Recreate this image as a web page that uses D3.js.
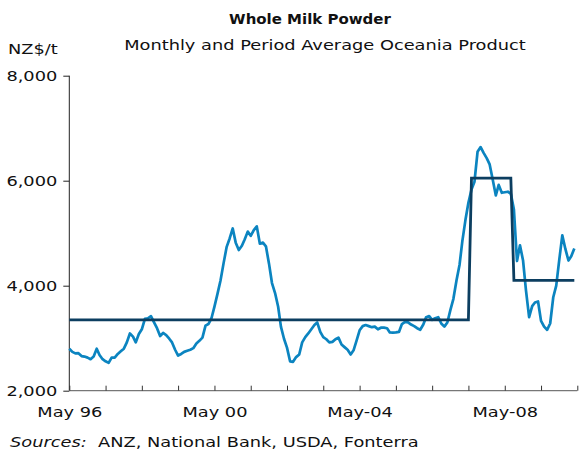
<!DOCTYPE html>
<html lang="en">
<head>
    <meta charset="UTF-8">
    <title>Whole Milk Powder</title>
    <script src="https://cdn.jsdelivr.net/npm/d3@7/dist/d3.min.js"></script>
    <style>
        body { margin: 0; background: #fff; }
        text { font-family: "DejaVu Sans", Verdana, sans-serif; fill: #111; }
    </style>
</head>
<body>
<script>
    // monthly price, NZ$/t, starting May 1996
    var startMonth = "1996-05";
    var wmp = [
        2800, 2740, 2710, 2715, 2660, 2650, 2630, 2600, 2650, 2800, 2680, 2600,
        2560, 2530, 2630, 2630, 2700, 2750, 2800, 2920, 3090, 3030, 2920, 3080,
        3170, 3370, 3380, 3420, 3300, 3190, 3040, 3100, 3060, 2990, 2920, 2780,
        2670, 2700, 2740, 2760, 2780, 2810, 2900, 2950, 3010, 3240, 3270, 3380,
        3600, 3850, 4100, 4430, 4740, 4900, 5090, 4820, 4680, 4760, 4880, 5030,
        4950, 5060, 5130, 4800, 4820, 4750, 4420, 4050, 3860, 3600, 3220, 2990,
        2820, 2560, 2550, 2640, 2690, 2920, 3020, 3090, 3170, 3250, 3300, 3120,
        3020, 2980, 2920, 2930, 2980, 3010, 2880, 2830, 2780, 2690, 2770, 2960,
        3150, 3230, 3250, 3230, 3210, 3220, 3170, 3200, 3200, 3190, 3110, 3105,
        3110, 3120, 3270, 3310, 3300, 3260, 3230, 3190, 3160, 3260, 3400, 3420,
        3350, 3380, 3400, 3280, 3220, 3300, 3540, 3750, 4100, 4400, 4850, 5250,
        5580, 5830, 5980, 6550, 6640, 6530, 6430, 6310, 6020, 5720, 5920, 5770,
        5780, 5790, 5750, 5450, 4470, 4770, 4480, 3900, 3400, 3610, 3680, 3700,
        3330, 3220, 3160, 3280, 3780, 4000, 4500, 4960, 4700, 4480, 4560, 4710
    ];

    // period averages
    var periodFrom = ["1996-05", "2007-06", "2008-08"];
    var periodTo   = ["2007-05", "2008-07", "2010-04"];
    var periodAvg  = [3350, 6050, 4100];

    var yTicks = [2000, 4000, 6000, 8000];
    var xLabels = {"1996": "May 96", "2000": "May 00", "2004": "May-04", "2008": "May-08"};

    var width = 582, height = 452;
    var margin = {left: 69.3, right: 4.7, top: 75.7, bottom: 61.3};
    var stretchK = 1.27;   // the original text is set wide

    var parseMonth = d3.timeParse("%Y-%m");
    var t0 = parseMonth(startMonth);
    var months = wmp.map(function(v, i) { return d3.timeMonth.offset(t0, i); });

    // widen text glyphs horizontally
    function stretch(sel, k) {
        sel.each(function() {
            var w = this.getComputedTextLength();
            if (w > 0) d3.select(this).attr("textLength", w * k).attr("lengthAdjust", "spacingAndGlyphs");
        });
    }

    var svg = d3.select("body").append("svg")
        .attr("width", width).attr("height", height);

    var x = d3.scaleTime()
        .domain([parseMonth("1996-05"), parseMonth("2010-05")])
        .range([margin.left, width - margin.right]);
    var y = d3.scaleLinear()
        .domain([2000, 8000])
        .range([height - margin.bottom, margin.top]);

    // titles
    svg.append("text").attr("x", 310).attr("y", 24).attr("text-anchor", "middle")
        .style("font-weight", "bold").style("font-size", "14px").text("Whole Milk Powder")
        .call(stretch, 1.07);
    svg.append("text").attr("x", 325).attr("y", 50).attr("text-anchor", "middle")
        .style("font-size", "14px").text("Monthly and Period Average Oceania Product")
        .call(stretch, stretchK);
    svg.append("text").attr("x", 8).attr("y", 54)
        .style("font-size", "14px").text("NZ$/t")
        .call(stretch, stretchK);

    // y axis
    var yAxis = d3.axisLeft(y).tickValues(yTicks).tickSize(6).tickPadding(6)
        .tickFormat(d3.format(","));
    var gy = svg.append("g").attr("transform", "translate(" + margin.left + ",0)").call(yAxis);
    gy.select(".domain").attr("stroke", "#222").attr("d",
        "M0," + y(8000) + "V" + y(2000));
    gy.selectAll(".tick line").attr("stroke", "#222");
    gy.selectAll("text").style("font-size", "14px").attr("fill", "#111").call(stretch, stretchK);

    // x axis, a tick every year, inward
    var years = d3.timeYear.range(new Date(1996, 0, 1), new Date(2011, 0, 1))
        .map(function(d) { return new Date(d.getFullYear(), 4, 1); });
    var xAxis = d3.axisBottom(x).tickValues(years).tickSize(-5).tickPadding(0)
        .tickFormat(function(d) { return xLabels[d.getFullYear()] || ""; });
    var gx = svg.append("g").attr("transform", "translate(0," + y(2000) + ")").call(xAxis);
    gx.select(".domain").attr("stroke", "#777").attr("stroke-width", 1.3)
        .attr("d", "M" + margin.left + ",0H" + (width - margin.right));
    gx.selectAll(".tick line").attr("stroke", "#333");
    gx.selectAll("text").attr("y", 26).attr("dy", 0)
        .style("font-size", "14px").attr("fill", "#111").call(stretch, stretchK);

    // monthly line
    var line = d3.line()
        .x(function(d, i) { return x(months[i]); })
        .y(function(d) { return y(d); });
    svg.append("path").datum(wmp)
        .attr("fill", "none").attr("stroke", "#0b84c0")
        .attr("stroke-width", 2.7).attr("stroke-linejoin", "round")
        .attr("d", line);

    // period average steps
    var steps = [];
    periodAvg.forEach(function(v, i) {
        steps.push([parseMonth(periodFrom[i]), v]);
        steps.push([parseMonth(periodTo[i]), v]);
    });
    svg.append("path").datum(steps)
        .attr("fill", "none").attr("stroke", "#0c3e60")
        .attr("stroke-width", 2.8)
        .attr("d", d3.line().x(function(d) { return x(d[0]); }).y(function(d) { return y(d[1]); }));

    // source
    var src = svg.append("text").attr("x", 10).attr("y", 447).style("font-size", "14px");
    src.append("tspan").style("font-style", "italic").text("Sources:");
    src.append("tspan").text("\u00a0 ANZ, National Bank, USDA, Fonterra");
    src.call(stretch, stretchK);
</script>
</body>
</html>
